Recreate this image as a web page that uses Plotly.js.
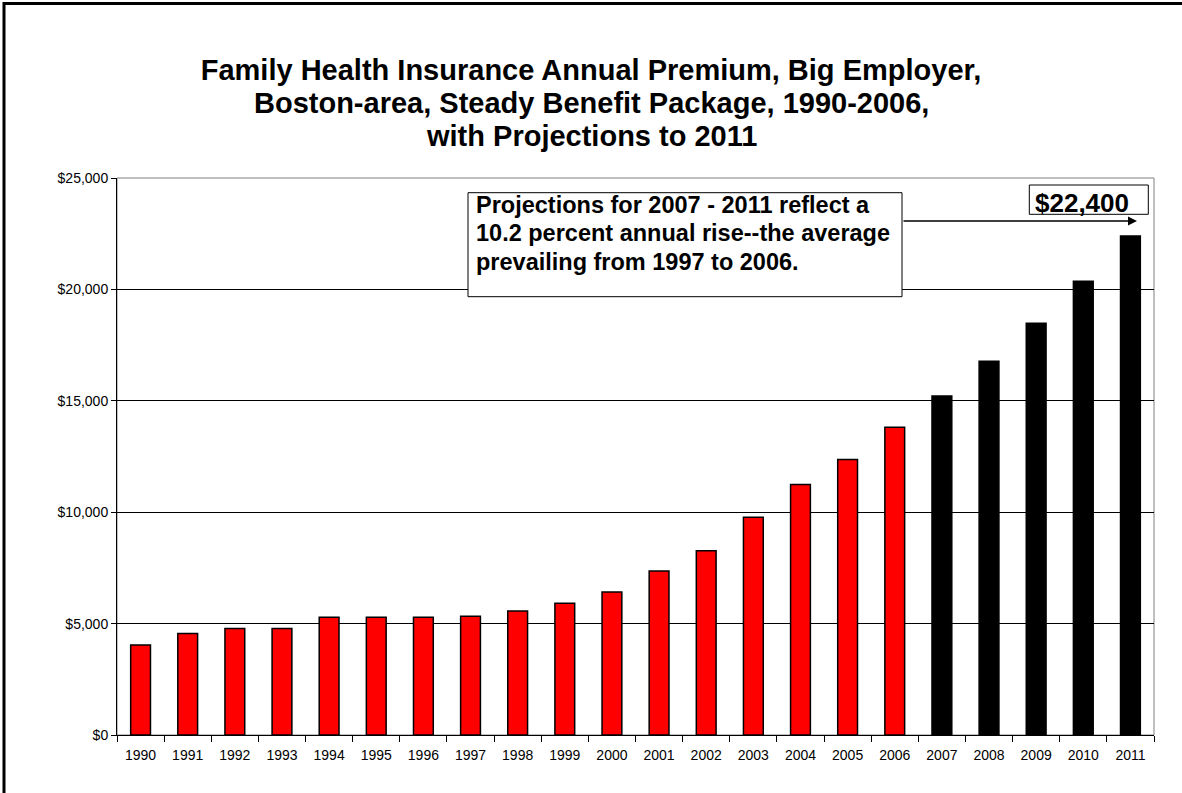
<!DOCTYPE html>
<html>
<head>
<meta charset="utf-8">
<script src="https://cdn.plot.ly/plotly-3.0.1.min.js"></script>
<style>
  html, body { margin: 0; padding: 0; background: #ffffff; }
  #chart { width: 1182px; height: 793px; }
</style>
</head>
<body>
<div id="chart"></div>
<script>
// Data
const actualYears = ["1990","1991","1992","1993","1994","1995","1996","1997","1998","1999","2000","2001","2002","2003","2004","2005","2006"];
const actualPremiums = [4040, 4560, 4780, 4780, 5280, 5280, 5280, 5330, 5560, 5910, 6420, 7360, 8270, 9770, 11240, 12360, 13810];
const projectedYears = ["2007","2008","2009","2010","2011"];
const projectedPremiums = [15220, 16770, 18480, 20370, 22400];
const titleLines = [
  "Family Health Insurance Annual Premium, Big Employer,",
  "Boston-area, Steady Benefit Package, 1990-2006,",
  "with Projections to 2011"
];
const noteLines = [
  "Projections for 2007 - 2011 reflect a",
  "10.2 percent annual rise--the average",
  "prevailing from 1997 to 2006."
];
const finalLabel = "$22,400";

const FONT = '"Liberation Sans", Arial, sans-serif';

// pixel helpers (plot area: left 117, right 1154, top 178, bottom 735)
const L = 117, R = 1154, T = 178, B = 735;
const px = v => (v - L) / (R - L);
const py = v => (B - v) / (B - T);

const traces = [
  {
    type: 'bar',
    name: '1990-2006',
    x: actualYears,
    y: actualPremiums,
    marker: { color: '#ff0000', line: { color: '#000000', width: 1.5 } },
    hoverinfo: 'x+y'
  },
  {
    type: 'bar',
    name: 'Projection 2007-2011',
    x: projectedYears,
    y: projectedPremiums,
    marker: { color: '#000000', line: { color: '#000000', width: 1.5 } },
    hoverinfo: 'x+y'
  }
];

const annotations = [];
// title lines after the first (the first is layout.title)
titleLines.slice(1).forEach((t, i) => {
  annotations.push({
    xref: 'paper', yref: 'paper',
    x: px(591), y: py(103 + i * 33),
    xanchor: 'center', yanchor: 'middle',
    text: '<b>' + t + '</b>', showarrow: false,
    font: { family: FONT, size: 29, color: '#000000' }
  });
});
noteLines.forEach((t, i) => {
  annotations.push({
    xref: 'paper', yref: 'paper',
    x: px(474), y: py(205 + i * 28.3),
    xanchor: 'left', yanchor: 'middle',
    text: '<b>' + t + '</b>', showarrow: false,
    font: { family: FONT, size: 23.5, color: '#000000' }
  });
});
annotations.push({
  xref: 'paper', yref: 'paper',
  x: px(1082), y: py(203),
  xanchor: 'center', yanchor: 'middle',
  text: '<b>' + finalLabel + '</b>', showarrow: false,
  font: { family: FONT, size: 26, color: '#000000' }
});
// arrow from the note box to the last bar
annotations.push({
  xref: 'paper', yref: 'paper',
  x: px(1137), y: py(221),
  ax: -(1137 - 902), ay: 0,
  text: '', showarrow: true,
  arrowhead: 2, arrowsize: 1.2, arrowwidth: 1.5, arrowcolor: '#000000',
  standoff: 0, startstandoff: 0
});

const shapes = [
  // plot-area border (grey)
  { type: 'rect', xref: 'paper', yref: 'paper', x0: 0, x1: 1, y0: 0, y1: 1,
    line: { color: '#808080', width: 1 }, layer: 'below' },
  // outer chart frame
  { type: 'rect', xref: 'paper', yref: 'paper', x0: px(4), x1: px(1300), y0: py(900), y1: py(3.5),
    line: { color: '#000000', width: 3 } },
  // note box
  { type: 'rect', xref: 'paper', yref: 'paper', x0: px(468), x1: px(902), y0: py(296.7), y1: py(192.7),
    line: { color: '#000000', width: 1 }, fillcolor: '#ffffff', layer: 'above' },
  // final value box
  { type: 'rect', xref: 'paper', yref: 'paper', x0: px(1029.3), x1: px(1148.3), y0: py(214.3), y1: py(185),
    line: { color: '#000000', width: 1 }, fillcolor: '#ffffff', layer: 'above' }
];

const layout = {
  width: 1182, height: 793,
  paper_bgcolor: '#ffffff', plot_bgcolor: '#ffffff',
  margin: { l: L, r: 1182 - R, t: T, b: 793 - B, pad: 0 },
  showlegend: false,
  barmode: 'overlay',
  bargap: 0.58,
  title: {
    text: '<b>' + titleLines[0] + '</b>',
    font: { family: FONT, size: 29, color: '#000000' },
    x: 0.5, xanchor: 'center',
    y: 1 - 70 / 793, yanchor: 'middle', yref: 'container'
  },
  xaxis: {
    type: 'category',
    categoryorder: 'array',
    categoryarray: actualYears.concat(projectedYears),
    tickson: 'boundaries',
    ticks: 'outside', ticklen: 6, tickwidth: 1, tickcolor: '#000000',
    ticklabelstandoff: 7,
    showline: true, linecolor: '#000000', linewidth: 1,
    showgrid: false, zeroline: false,
    tickfont: { family: FONT, size: 14, color: '#000000' },
    range: [-0.5, 21.5]
  },
  yaxis: {
    range: [0, 25000], dtick: 5000, tick0: 0,
    tickprefix: '$', tickformat: ',d',
    ticks: 'outside', ticklen: 5, tickwidth: 1, tickcolor: '#000000',
    showline: true, linecolor: '#000000', linewidth: 1,
    showgrid: true, gridcolor: '#000000', gridwidth: 1,
    zeroline: false,
    tickfont: { family: FONT, size: 14, color: '#000000' }
  },
  annotations: annotations,
  shapes: shapes,
  separators: '.,'
};

Plotly.newPlot('chart', traces, layout, { displayModeBar: false, staticPlot: true });
</script>
</body>
</html>
